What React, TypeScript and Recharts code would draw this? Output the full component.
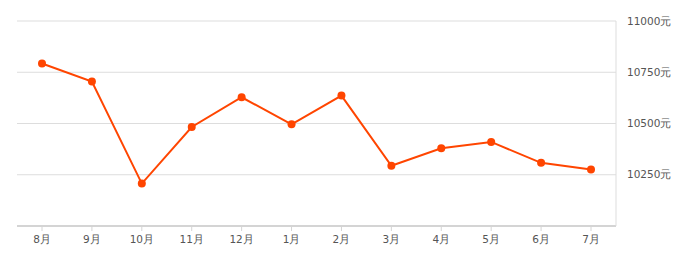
import React from 'react';
import { LineChart, Line, XAxis, YAxis, CartesianGrid } from 'recharts';

const months = ['8月', '9月', '10月', '11月', '12月', '1月', '2月', '3月', '4月', '5月', '6月', '7月'];
const prices = [10793, 10705, 10207, 10483, 10628, 10496, 10636, 10294, 10379, 10410, 10308, 10276];
const yTicks = [10250, 10500, 10750, 11000];

const data = months.map((m, i) => ({ month: m, price: prices[i] }));

const App: React.FC = () => {
  return (
    <div style={{ width: 670, height: 250, fontFamily: '"DejaVu Sans", sans-serif' }}>
      <LineChart width={670} height={250} data={data} margin={{ top: 13, right: 2, bottom: 2, left: 9 }}>
        <CartesianGrid vertical={false} stroke="#dddddd" />
        <XAxis
          dataKey="month"
          padding={{ left: 25, right: 25 }}
          height={30}
          axisLine={{ stroke: '#d4d4d4', strokeWidth: 2 }}
          tickLine={{ stroke: '#d4d4d4' }}
          tickSize={5}
          tickMargin={5}
          tick={{ fill: '#555', fontSize: 10.5 }}
          interval={0}
        />
        <YAxis
          orientation="right"
          width={60}
          domain={[10000, 11000]}
          ticks={yTicks}
          axisLine={{ stroke: '#dddddd' }}
          tickLine={false}
          tickSize={0}
          tickMargin={11}
          tick={{ fill: '#555', fontSize: 10.5, textAnchor: 'start' }}
          tickFormatter={(v: number) => `${v}元`}
        />
        <Line
          type="linear"
          dataKey="price"
          stroke="#ff4500"
          strokeWidth={2}
          dot={{ r: 4, fill: '#ff4500', stroke: '#ff4500', strokeWidth: 0 }}
          isAnimationActive={false}
        />
      </LineChart>
    </div>
  );
};

export default App;
